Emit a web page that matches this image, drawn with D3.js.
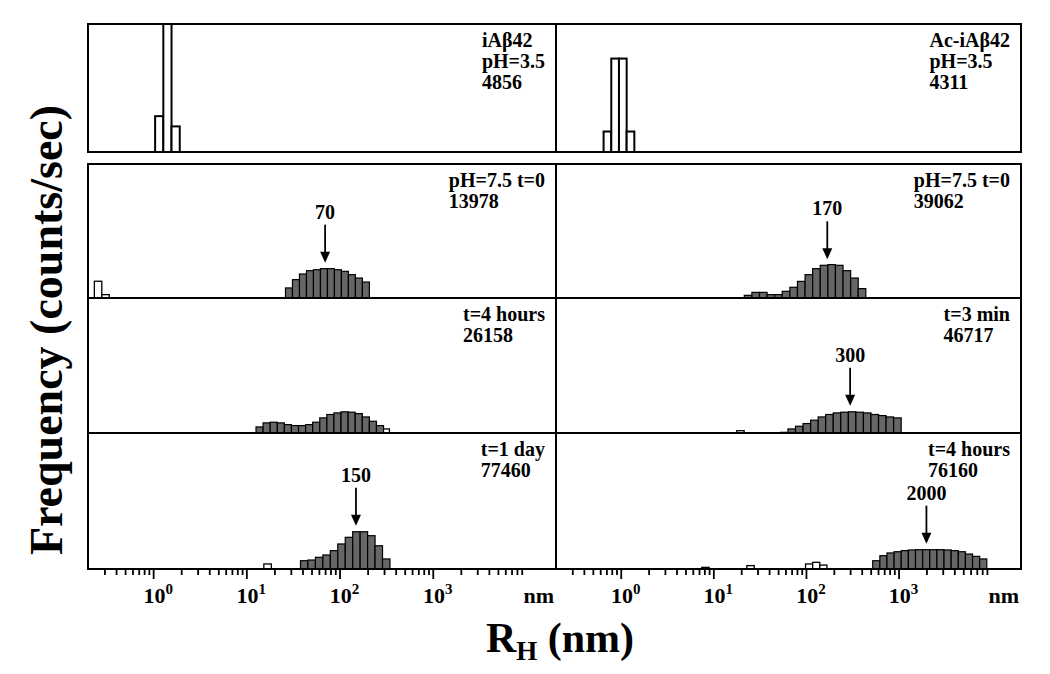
<!DOCTYPE html>
<html>
<head>
<meta charset="utf-8">
<script src="https://cdn.jsdelivr.net/npm/d3@7"></script>
<style>
  body { margin: 0; background: #fff; }
  text { font-family: "Liberation Serif", "Times New Roman", serif; font-weight: bold; fill: #000; }
</style>
</head>
<body>
<div id="chart"></div>
<script>
// panel order: pH 3.5 row (left, right), then the three stacked rows, left then right
var panelText = [
  ['iAβ42', 'pH=3.5', '4856'],
  ['Ac-iAβ42', 'pH=3.5', '4311'],
  ['pH=7.5 t=0', '13978'],
  ['pH=7.5 t=0', '39062'],
  ['t=4 hours', '26158'],
  ['t=3 min', '46717'],
  ['t=1 day', '77460'],
  ['t=4 hours', '76160']
];

// peak radius marked with an arrow (nm)
var peakRadius = [null, null, 70, 170, null, 300, 150, 2000];

// histogram bins: left edge of first bin (nm), bin width (decades), heights (% of panel height)
var mainBins = [
  { start: 1.05, step: 0.088, h: [28, 100, 20] },
  { start: 0.653, step: 0.083, h: [16, 73, 73, 16] },
  { start: 26.3, step: 0.075, h: [7.5, 13.7, 17.9, 20.4, 21.1, 21.9, 21.9, 21.1, 19.9, 17.4, 14.9, 11.9] },
  { start: 21.6, step: 0.082, h: [2, 4.2, 4.2, 2.5, 2.5, 5, 8, 12.4, 17.4, 21.9, 24.4, 24.9, 24.4, 20.4, 14.9, 7] },
  { start: 12.7, step: 0.076, h: [4.5, 7.5, 8, 7.5, 6.2, 5.5, 5.5, 6.2, 8, 11.2, 13.7, 14.9, 15.7, 15.4, 14.4, 11.9, 8.7, 5.5] },
  { start: 53, step: 0.0815, h: [0.5, 3, 5, 7, 9.5, 11.9, 13.7, 14.9, 15.4, 15.7, 15.4, 14.9, 13.7, 12.9, 11.9, 11.2] },
  { start: 38.1, step: 0.08, h: [6.1, 6.6, 8.6, 10.3, 13.5, 18.4, 23.3, 27.4, 27.4, 24.5, 17.1, 7.4] },
  { start: 526, step: 0.077, h: [6.1, 9.8, 11.8, 12.7, 13.5, 14, 14.2, 14.2, 14.2, 14.2, 14, 13.5, 12.7, 11, 9.3, 7.4] }
];

// small side populations (drawn open)
var sideBins = [
  [],
  [],
  [{ start: 0.234, step: 0.08, h: [12.5, 2.5] }],
  [],
  [{ start: 287.7, step: 0.076, h: [3] }],
  [{ start: 17.9, step: 0.08, h: [1.7] }],
  [{ start: 15.4, step: 0.08, h: [3.7] }],
  [
    { start: 7.5, step: 0.08, h: [1.2] },
    { start: 23, step: 0.08, h: [2.5] },
    { start: 99, step: 0.077, h: [3.7, 4.9, 2.9] }
  ]
];

// axis
var radiusDomain = [0.2, 21000];
var decades = [1, 10, 100, 1000];
var decadeExp = ['0', '1', '2', '3'];

var width = 1050, height = 674;
var cols = [[88, 556], [556, 1021]];
var rows = [[24, 152], [164, 298], [298, 433], [433, 569]];

var svg = d3.select('#chart')
  .append('svg')
  .attr('width', width)
  .attr('height', height);

var xs = cols.map(function (c) {
  return d3.scaleLog().domain(radiusDomain).range(c);
});

function drawBars(g, x, y, series, fill, strokeW) {
  g.selectAll(null)
    .data(series.h)
    .enter()
    .append('rect')
    .attr('x', function (d, i) { return x(series.start * Math.pow(10, i * series.step)); })
    .attr('width', function (d, i) {
      return x(series.start * Math.pow(10, (i + 1) * series.step)) - x(series.start * Math.pow(10, i * series.step));
    })
    .attr('y', function (d) { return y(d); })
    .attr('height', function (d) { return y(0) - y(d); })
    .attr('fill', fill)
    .attr('stroke', '#000')
    .attr('stroke-width', strokeW);
}

panelText.forEach(function (lines, p) {
  var col = p % 2;
  var row = Math.floor(p / 2);
  var x = xs[col];
  var r = rows[row];
  var y = d3.scaleLinear().domain([0, 100]).range([r[1], r[0]]);
  var g = svg.append('g');
  var acidic = row === 0;

  // bars
  sideBins[p].forEach(function (s) { drawBars(g, x, y, s, '#fff', 1.3); });
  drawBars(g, x, y, mainBins[p], acidic ? '#fff' : '#666', acidic ? 2 : 1.2);

  // frame
  g.append('rect')
    .attr('x', cols[col][0])
    .attr('y', r[0])
    .attr('width', cols[col][1] - cols[col][0])
    .attr('height', r[1] - r[0])
    .attr('fill', 'none')
    .attr('stroke', '#000')
    .attr('stroke-width', 2);

  // label block, left aligned, widest line ending near the right frame
  var texts = g.selectAll(null)
    .data(lines)
    .enter()
    .append('text')
    .attr('y', function (d, i) { return r[0] + 23 + i * 21; })
    .attr('font-size', 20)
    .text(function (d) { return d; });
  var maxW = d3.max(texts.nodes(), function (n) { return n.getComputedTextLength(); });
  texts.attr('x', cols[col][1] - 11 - maxW);

  // peak arrow
  var pk = peakRadius[p];
  if (pk != null) {
    var s = mainBins[p];
    var idx = Math.floor(Math.log10(pk / s.start) / s.step);
    var top = y(s.h[idx]);
    var tip = top - 6;
    var px = x(pk);
    g.append('line')
      .attr('x1', px).attr('x2', px)
      .attr('y1', tip - 38).attr('y2', tip - 8)
      .attr('stroke', '#000')
      .attr('stroke-width', 1.8);
    g.append('path')
      .attr('d', 'M' + (px - 5) + ',' + (tip - 11) + 'L' + (px + 5) + ',' + (tip - 11) + 'L' + px + ',' + tip + 'Z')
      .attr('fill', '#000');
    g.append('text')
      .attr('x', px)
      .attr('y', tip - 44)
      .attr('text-anchor', 'middle')
      .attr('font-size', 20)
      .text(pk);
  }
});

// bottom axes
var minorTicks = [];
[0.1, 1, 10, 100, 1000].forEach(function (d) {
  for (var k = 2; k <= 9; k++) {
    var v = d * k;
    if (v >= 0.3) minorTicks.push(v);
  }
});

xs.forEach(function (x, c) {
  var axisY = rows[3][1];
  var minor = svg.append('g')
    .attr('transform', 'translate(0,' + axisY + ')')
    .call(d3.axisBottom(x).tickValues(minorTicks).tickSize(6).tickFormat(''));
  var major = svg.append('g')
    .attr('transform', 'translate(0,' + axisY + ')')
    .call(d3.axisBottom(x).tickValues(decades).tickSize(10).tickFormat(''));
  [minor, major].forEach(function (a) {
    a.select('.domain').remove();
    a.selectAll('.tick line').attr('stroke', '#000').attr('stroke-width', 1.8);
  });

  var labels = svg.append('g').selectAll(null)
    .data(decades)
    .enter()
    .append('text')
    .attr('x', function (d) { return x(d) + 5; })
    .attr('y', axisY + 34)
    .attr('text-anchor', 'middle')
    .attr('font-size', 22);
  labels.append('tspan').text('10');
  labels.append('tspan')
    .attr('dy', -9)
    .attr('font-size', 15)
    .text(function (d, i) { return decadeExp[i]; });

  svg.append('text')
    .attr('x', cols[c][1] - 2)
    .attr('y', axisY + 34)
    .attr('text-anchor', 'end')
    .attr('font-size', 22)
    .text('nm');
});

// axis titles
svg.append('text')
  .attr('transform', 'translate(62,330) rotate(-90)')
  .attr('text-anchor', 'middle')
  .attr('font-size', 46)
  .text('Frequency (counts/sec)');

var xt = svg.append('text')
  .attr('x', 560)
  .attr('y', 652)
  .attr('text-anchor', 'middle')
  .attr('font-size', 42);
xt.append('tspan').text('R');
xt.append('tspan').attr('font-size', 27).attr('dy', 8).text('H');
xt.append('tspan').attr('dy', -8).text(' (nm)');
</script>
</body>
</html>
